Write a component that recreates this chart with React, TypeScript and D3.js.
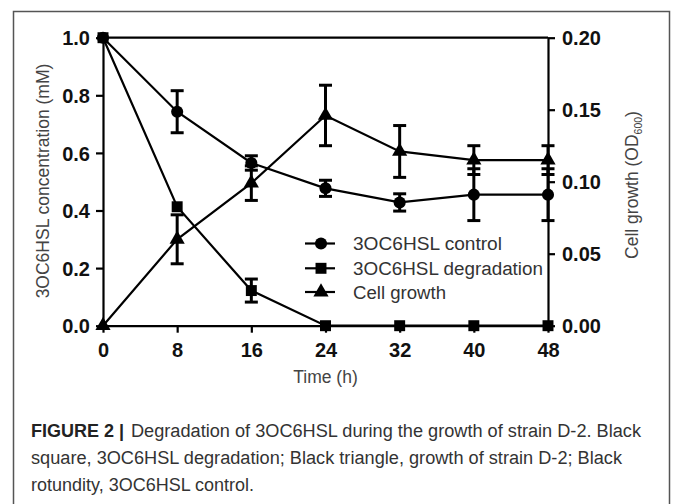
import React, { useEffect, useRef } from 'react';
import * as d3 from 'd3';

const hours = [0, 8, 16, 24, 32, 40, 48];
const controlMean = [1.0, 0.743, 0.565, 0.477, 0.428, 0.455, 0.455];
const controlErr = [0, 0.073, 0.025, 0.028, 0.03, 0.09, 0.09];
const degradMean = [1.0, 0.413, 0.122, 0, 0, 0, 0];
const degradErr = [0, 0, 0.04, 0, 0, 0, 0];
const growthMean = [0, 0.06, 0.099, 0.146, 0.121, 0.115, 0.115];
const growthErr = [0, 0.017, 0.012, 0.021, 0.018, 0.01, 0.01];

const leftTicks = [0, 0.2, 0.4, 0.6, 0.8, 1.0];
const rightTicks = [0, 0.05, 0.1, 0.15, 0.2];
const legendLabels = ['3OC6HSL control', '3OC6HSL degradation', 'Cell growth'];
const captionLines = [
  'Degradation of 3OC6HSL during the growth of strain D-2. Black',
  'square, 3OC6HSL degradation; Black triangle, growth of strain D-2; Black',
  'rotundity, 3OC6HSL control.'
];

const FONT = '"Liberation Sans", Arial, sans-serif';

const App = () => {
  const ref = useRef(null);

  useEffect(() => {
    const width = 673;
    const height = 504;
    const left = 103, right = 548, top = 37.7, bottom = 325.7;

    d3.select(ref.current).selectAll('svg').remove();
    const svg = d3.select(ref.current)
      .append('svg')
      .attr('width', width)
      .attr('height', height)
      .style('display', 'block')
      .style('font-family', FONT);

    svg.append('rect').attr('width', width).attr('height', height).attr('fill', 'white');

    // outer figure frame
    svg.append('path')
      .attr('d', `M13.5,${height + 5} V11.5 H669.5 V${height + 5}`)
      .attr('fill', 'none')
      .attr('stroke', '#555')
      .attr('stroke-width', 1.5);

    const x = d3.scaleLinear().domain([0, 48]).range([left, right]);
    const yL = d3.scaleLinear().domain([0, 1]).range([bottom, top]);
    const yR = d3.scaleLinear().domain([0, 0.2]).range([bottom, top]);

    const styleAxis = (g) => {
      g.select('.domain').attr('stroke', '#000').attr('stroke-width', 2.2);
      g.selectAll('.tick line').attr('stroke', '#000').attr('stroke-width', 2.2);
      g.selectAll('.tick text')
        .attr('fill', '#111')
        .style('font-family', FONT)
        .style('font-size', '20px')
        .style('font-weight', 'bold');
    };

    // top border line
    svg.append('line')
      .attr('x1', left).attr('x2', right)
      .attr('y1', top).attr('y2', top)
      .attr('stroke', '#000').attr('stroke-width', 2.2);

    const gx = svg.append('g').attr('transform', `translate(0,${bottom})`)
      .call(d3.axisBottom(x).tickValues(hours).tickSize(7).tickPadding(10).tickSizeOuter(0));
    styleAxis(gx);

    const gl = svg.append('g').attr('transform', `translate(${left},0)`)
      .call(d3.axisLeft(yL).tickValues(leftTicks).tickFormat(d3.format('.1f')).tickSize(7).tickPadding(6).tickSizeOuter(0));
    styleAxis(gl);
    gl.selectAll('.tick text').attr('dy', '0.36em');

    const gr = svg.append('g').attr('transform', `translate(${right},0)`)
      .call(d3.axisRight(yR).tickValues(rightTicks).tickFormat(d3.format('.2f')).tickSize(7).tickPadding(7).tickSizeOuter(0));
    styleAxis(gr);
    gr.selectAll('.tick text').attr('dy', '0.36em');

    // axis titles
    svg.append('text')
      .attr('transform', `translate(49,181) rotate(-90)`)
      .attr('text-anchor', 'middle')
      .attr('fill', '#444')
      .style('font-size', '17.5px')
      .text('3OC6HSL concentration (mM)');

    const rt = svg.append('text')
      .attr('transform', `translate(638,185) rotate(-90)`)
      .attr('text-anchor', 'middle')
      .attr('fill', '#444')
      .style('font-size', '17.5px');
    rt.append('tspan').text('Cell growth (OD');
    rt.append('tspan').attr('dy', 4).style('font-size', '10.5px').text('600');
    rt.append('tspan').attr('dy', -4).text(')');

    svg.append('text')
      .attr('x', x(24)).attr('y', 383)
      .attr('text-anchor', 'middle')
      .attr('fill', '#444')
      .style('font-size', '17.5px')
      .text('Time (h)');

    const series = [
      { mean: controlMean, err: controlErr, y: yL, shape: d3.symbolCircle, size: 115 },
      { mean: degradMean, err: degradErr, y: yL, shape: d3.symbolSquare, size: 120 },
      { mean: growthMean, err: growthErr, y: yR, shape: d3.symbolTriangle, size: 100 }
    ];

    const line = (s) => d3.line().x((_, i) => x(hours[i])).y(d => s.y(d));

    series.forEach(s => {
      svg.append('path')
        .datum(s.mean)
        .attr('d', line(s))
        .attr('fill', 'none')
        .attr('stroke', '#000')
        .attr('stroke-width', 2.2);
    });

    series.forEach(s => {
      const g = svg.append('g');
      s.mean.forEach((m, i) => {
        if (!s.err[i]) return;
        const cx = x(hours[i]);
        const y0 = s.y(m - s.err[i]);
        const y1 = s.y(m + s.err[i]);
        g.append('line').attr('x1', cx).attr('x2', cx).attr('y1', y0).attr('y2', y1)
          .attr('stroke', '#000').attr('stroke-width', 3);
        [y0, y1].forEach(yy => {
          g.append('line').attr('x1', cx - 6.5).attr('x2', cx + 6.5).attr('y1', yy).attr('y2', yy)
            .attr('stroke', '#000').attr('stroke-width', 3);
        });
      });
    });

    series.forEach(s => {
      svg.append('g').selectAll('path')
        .data(s.mean)
        .enter()
        .append('path')
        .attr('transform', (d, i) => `translate(${x(hours[i])},${s.y(d)})`)
        .attr('d', d3.symbol().type(s.shape).size(s.size)())
        .attr('fill', '#000');
    });

    // legend
    const legendY = [243.5, 268.3, 292];
    const legendLen = [149, 190, 93];
    series.forEach((s, i) => {
      const g = svg.append('g').attr('transform', `translate(321,${legendY[i]})`);
      g.append('line').attr('x1', -16).attr('x2', 14).attr('stroke', '#000').attr('stroke-width', 2.2);
      g.append('path').attr('d', d3.symbol().type(s.shape).size(s.size)()).attr('fill', '#000');
      g.append('text')
        .attr('x', 32).attr('y', 6.5)
        .attr('fill', '#333')
        .attr('textLength', legendLen[i])
        .attr('lengthAdjust', 'spacingAndGlyphs')
        .style('font-size', '18px')
        .text(legendLabels[i]);
    });

    // caption
    const cap = svg.append('g').attr('fill', '#333').style('font-size', '18px');
    cap.append('text').attr('x', 31).attr('y', 437)
      .attr('fill', '#222').style('font-weight', 'bold').text('FIGURE 2 |');
    const capX = [131, 31, 31];
    const capY = [437, 464, 491];
    const capEnd = [641, 622, 254];
    captionLines.forEach((t, i) => {
      cap.append('text')
        .attr('x', capX[i]).attr('y', capY[i])
        .attr('textLength', capEnd[i] - capX[i])
        .attr('lengthAdjust', 'spacingAndGlyphs')
        .text(t);
    });
  }, []);

  return (
    <div ref={ref} style={{ position: 'absolute', left: 0, top: 0 }}></div>
  );
};

export default App;
